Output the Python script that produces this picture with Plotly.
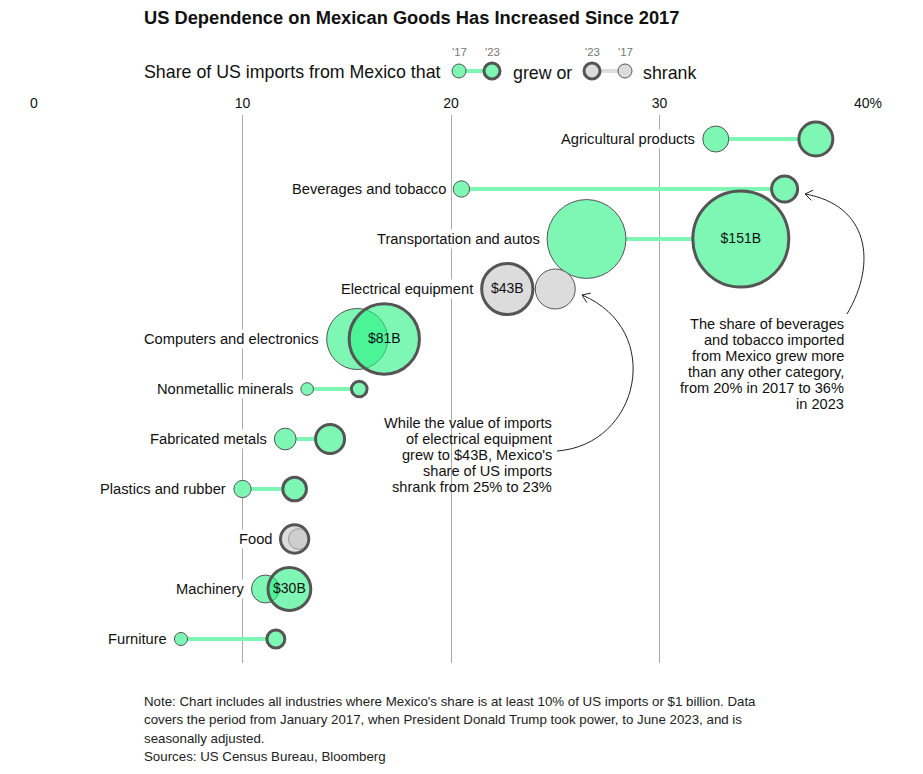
import numpy as np
import plotly.graph_objects as go

# ---------------- data ----------------
categories = ["Agricultural products", "Beverages and tobacco", "Transportation and autos",
              "Electrical equipment", "Computers and electronics", "Nonmetallic minerals",
              "Fabricated metals", "Plastics and rubber", "Food", "Machinery", "Furniture"]
share_2017 = [32.7, 20.5, 26.5, 25.0, 15.5, 13.1, 12.05, 10.0, 12.7, 11.1, 7.05]
share_2023 = [37.5, 36.0, 33.9, 22.7, 16.8, 15.6, 14.2, 12.5, 12.5, 12.25, 11.6]
value_2017 = [11.1, 4.4, 102, 26.2, 61, 2.6, 7.7, 4.9, 7.0, 12.8, 2.8]     # $B
value_2023 = [18.9, 11.1, 151, 43, 81, 4.0, 13.8, 9.2, 13.1, 30, 5.3]      # $B
bubble_labels = ["", "", "$151B", "$43B", "$81B", "", "", "", "", "$30B", ""]
x_ticks = [0, 10, 20, 30, 40]
x_tick_labels = ["0", "10", "20", "30", "40%"]

# ---------------- style ----------------
OFF = 8                      # page body margin
W, H = 923 - 2 * OFF, 774 - 2 * OFF
ML, MT = 34 - OFF, 115 - OFF
MR = W - (868 - OFF)
MB = H - (663 - OFF)
PW, PH = W - ML - MR, H - MT - MB
FONT = "Liberation Sans, Arial, Helvetica, sans-serif"
GREEN_SOLID = "rgb(126,247,181)"
GREEN_ALPHA = "rgba(40,242,132,0.6)"
GRAY_SOLID = "rgb(220,220,220)"
GRAY_ALPHA = "rgba(197,197,197,0.6)"
GREEN_LINE = "rgb(126,247,181)"
GRAY_LINE = "rgb(222,222,222)"
OUTLINE = "#555555"
SIZEREF = 0.03277
PPU = PW / 40.0


def px2x(px):
    return (px - OFF - ML) / PW


def py2y(py):
    return (H - MB - (py - OFF)) / PH


def diam(v):
    return float(np.sqrt(2 * v / SIZEREF))


grew = [b >= a for a, b in zip(share_2017, share_2023)]
size17 = [diam(v) for v in value_2017]
size23 = [diam(v) for v in value_2023]

fig = go.Figure()

# connecting lines
for i, c in enumerate(categories):
    fig.add_trace(go.Scatter(
        x=[share_2017[i], share_2023[i]], y=[c, c], mode="lines",
        line=dict(color=GREEN_LINE if grew[i] else GRAY_LINE, width=4),
        hoverinfo="skip", showlegend=False))

# white underlay under 2023 bubbles (hides the connector)
fig.add_trace(go.Scatter(
    x=share_2023, y=categories, mode="markers",
    marker=dict(size=value_2023, sizemode="area", sizeref=SIZEREF, opacity=1,
                color="white", line=dict(width=0)),
    hoverinfo="skip", showlegend=False))

# 2017 bubbles
fig.add_trace(go.Scatter(
    x=share_2017, y=categories, mode="markers",
    marker=dict(size=value_2017, sizemode="area", sizeref=SIZEREF, opacity=1,
                color=[GREEN_SOLID if g else GRAY_SOLID for g in grew],
                line=dict(color=OUTLINE, width=1)),
    showlegend=False, name="2017"))

# 2023 bubbles
fig.add_trace(go.Scatter(
    x=share_2023, y=categories, mode="markers+text",
    text=bubble_labels, textposition="middle center",
    textfont=dict(family=FONT, size=14, color="#111"),
    marker=dict(size=value_2023, sizemode="area", sizeref=SIZEREF, opacity=1,
                color=[GREEN_ALPHA if g else GRAY_ALPHA for g in grew],
                line=dict(color=OUTLINE, width=3)),
    showlegend=False, name="2023"))

annotations = []
# category labels
for i, c in enumerate(categories):
    e17 = share_2017[i] * PPU - (size17[i] / 2 + 0.5)
    e23 = share_2023[i] * PPU - (size23[i] / 2 + 1.5)
    if e17 <= e23:
        xv, r = share_2017[i], size17[i] / 2 + 0.5
    else:
        xv, r = share_2023[i], size23[i] / 2 + 1.5
    annotations.append(dict(
        x=xv, y=c, xref="x", yref="y", xanchor="right", yanchor="middle",
        xshift=-(r + 5), text=c, showarrow=False, bgcolor="white",
        font=dict(family=FONT, size=14.7, color="#111")))


def txt(px, py, t, size, anchor="left", color="#111"):
    annotations.append(dict(x=px2x(px), y=py2y(py), xref="paper", yref="paper",
                            xanchor=anchor, yanchor="middle", showarrow=False, text=t,
                            font=dict(family=FONT, size=size, color=color)))


# title and legend
txt(142, 18, "<b>US Dependence on Mexican Goods Has Increased Since 2017</b>", 18.3)
txt(142, 72, "Share of US imports from Mexico that", 17.8)
txt(511, 73, "grew or", 17.8)
txt(641, 73, "shrank", 17.8)
for px, t in [(459, "'17"), (492, "'23"), (592, "'23"), (625, "'17")]:
    txt(px, 52, t, 11.5, anchor="center", color="#777")

# callouts
call1 = ["While the value of imports", "of electrical equipment", "grew to $43B, Mexico's",
         "share of US imports", "shrank from 25% to 23%"]
for k, t in enumerate(call1):
    txt(554, 423 + 16 * k, t, 14.6, anchor="right")
call2 = ["The share of beverages", "and tobacco imported", "from Mexico grew more",
         "than any other category,", "from 20% in 2017 to 36%", "in 2023"]
for k, t in enumerate(call2):
    txt(846, 324 + 16 * k, t, 14.6, anchor="right")

# footnote
notes = ["Note: Chart includes all industries where Mexico's share is at least 10% of US imports or $1 billion. Data",
         "covers the period from January 2017, when President Donald Trump took power, to June 2023, and is",
         "seasonally adjusted.",
         "Sources: US Census Bureau, Bloomberg"]
for k, t in enumerate(notes):
    txt(142, 701 + 18.5 * k, t, 13.3, color="#222")

shapes = []


def circle(cx, cy, d, fill, lw):
    return dict(type="circle", xref="paper", yref="paper", xsizemode="pixel", ysizemode="pixel",
                xanchor=px2x(cx), yanchor=py2y(cy), x0=-d / 2, x1=d / 2, y0=-d / 2, y1=d / 2,
                fillcolor=fill, line=dict(color=OUTLINE, width=lw), layer="above")


shapes.append(dict(type="line", xref="paper", yref="paper", x0=px2x(459), x1=px2x(492),
                   y0=py2y(71), y1=py2y(71), line=dict(color=GREEN_LINE, width=4)))
shapes.append(dict(type="line", xref="paper", yref="paper", x0=px2x(592), x1=px2x(625),
                   y0=py2y(71), y1=py2y(71), line=dict(color=GRAY_LINE, width=4)))
shapes.append(circle(459, 71, 14, GREEN_SOLID, 1))
shapes.append(circle(492, 71, 16, GREEN_SOLID, 3))
shapes.append(circle(592, 71, 16, GRAY_SOLID, 3))
shapes.append(circle(625, 71, 14, GRAY_SOLID, 1))


def curve_arrow(p0, p1, p2, p3):
    path = "M {:.5f},{:.5f} C {:.5f},{:.5f} {:.5f},{:.5f} {:.5f},{:.5f}".format(
        px2x(p0[0]), py2y(p0[1]), px2x(p1[0]), py2y(p1[1]),
        px2x(p2[0]), py2y(p2[1]), px2x(p3[0]), py2y(p3[1]))
    out = [dict(type="path", xref="paper", yref="paper", path=path,
                line=dict(color="#222", width=1), layer="above")]
    d = np.array(p3, float) - np.array(p2, float)
    d = d / np.linalg.norm(d)
    for ang in (np.radians(35), -np.radians(35)):
        rot = np.array([[np.cos(ang), -np.sin(ang)], [np.sin(ang), np.cos(ang)]])
        b = np.array(p3, float) - 9 * rot.dot(d)
        out.append(dict(type="line", xref="paper", yref="paper",
                        x0=px2x(p3[0]), y0=py2y(p3[1]), x1=px2x(b[0]), y1=py2y(b[1]),
                        line=dict(color="#222", width=1), layer="above"))
    return out


shapes += curve_arrow((557, 451), (640, 445), (665, 330), (582, 295))
shapes += curve_arrow((847, 314), (878, 262), (868, 205), (805, 194))

fig.update_layout(
    width=W, height=H, margin=dict(l=ML, r=MR, t=MT, b=MB, pad=0),
    paper_bgcolor="white", plot_bgcolor="white",
    font=dict(family=FONT, color="#111"),
    xaxis=dict(range=[0, 40], side="top", tickvals=x_ticks, ticktext=x_tick_labels,
               showgrid=True, gridcolor="#aaaaaa", gridwidth=1, zeroline=False,
               showline=False, ticks="", ticklabelstandoff=3,
               tickfont=dict(family=FONT, size=14, color="#111"),
               fixedrange=True),
    yaxis=dict(type="category", categoryorder="array", categoryarray=categories,
               range=[10.48, -0.48], showgrid=False, zeroline=False, showticklabels=False,
               showline=False, fixedrange=True),
    annotations=annotations, shapes=shapes, showlegend=False,
)

fig.write_html("out.html")
